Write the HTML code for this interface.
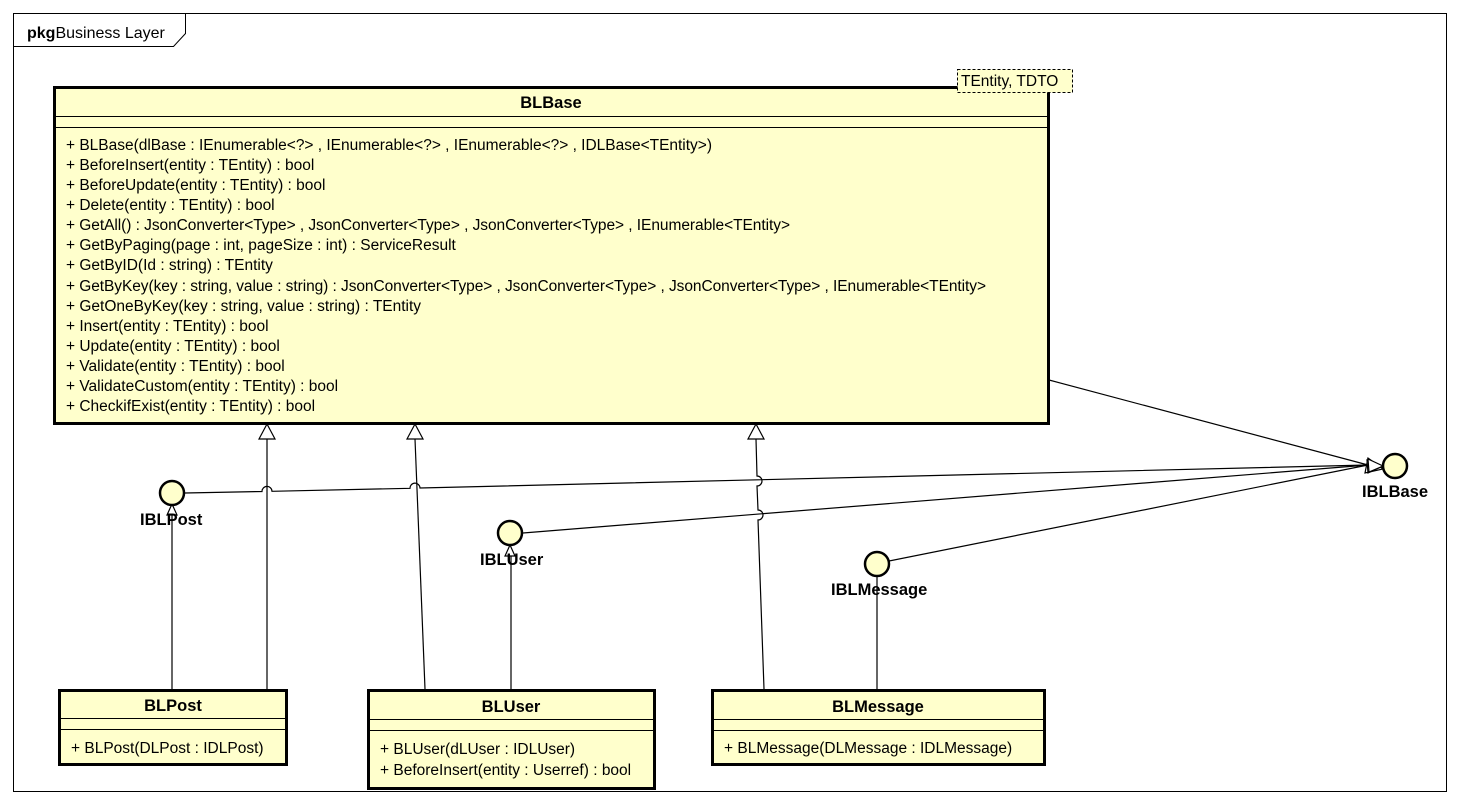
<!DOCTYPE html>
<html><head><meta charset="utf-8"><style>
html,body{margin:0;padding:0;background:#fff;}
svg{display:block;}
text{font-family:"Liberation Sans",Arial,sans-serif;font-size:15.5px;fill:#000;}
.b{font-weight:bold;font-size:16.5px;}
</style></head><body>
<svg width="1458" height="805" viewBox="0 0 1458 805" xmlns="http://www.w3.org/2000/svg">
<rect x="0" y="0" width="1458" height="805" fill="#fff"/>
<rect x="13.5" y="13.5" width="1433" height="778" fill="none" stroke="#000" stroke-width="1"/>
<polyline points="13.5,46.5 173.5,46.5 185.5,33.5 185.5,13.5" fill="none" stroke="#000"/>
<text x="27" y="38" style="font-size:16px"><tspan style="font-weight:bold">pkg</tspan>Business Layer</text>

<g stroke="#000" stroke-width="1.2" fill="none">
<line x1="267" y1="689" x2="267" y2="439"/>
<line x1="425" y1="689" x2="415" y2="439"/>
<path d="M764,689 L758,520 A5,5 0 0 0 758,510 L757,486 A5,5 0 0 0 757,476 L756,439"/>
<line x1="172" y1="689" x2="172" y2="515"/>
<line x1="511" y1="689" x2="511" y2="556"/>
<line x1="877" y1="689" x2="877" y2="577"/>
<path d="M185,493 L262,491.5 A5,5 0 0 1 272,491.3 L410,488.3 A5,5 0 0 1 420,488 L1368,465"/>
<line x1="523" y1="533" x2="1368" y2="465"/>
<line x1="889" y1="561" x2="1368" y2="465"/>
<line x1="1049" y1="380" x2="1368" y2="465"/>
</g>
<g stroke="#000" stroke-width="1.2" fill="#fff">
<polygon points="267,424 259,439 275,439"/>
<polygon points="415,424 407,439 423,439"/>
<polygon points="756,424 748,439 764,439"/>
<polygon points="172,504 167,515 177,515"/>
<polygon points="510,545 505,556 515,556"/>
<polygon points="1383,469 1368,458 1365,473"/>
<polygon points="1383,466 1367,460 1368,473"/>
<polygon points="1383,466 1368,459 1369,472"/>
</g>

<g fill="#ffffcc" stroke="#000" stroke-width="2.5">
<circle cx="172" cy="493" r="12"/>
<circle cx="510" cy="533" r="12"/>
<circle cx="877" cy="564" r="12"/>
<circle cx="1395" cy="466" r="12"/>
</g>
<text class="b" x="140" y="525">IBLPost</text>
<text class="b" x="480" y="565">IBLUser</text>
<text class="b" x="831" y="595">IBLMessage</text>
<text class="b" x="1362" y="497">IBLBase</text>

<rect x="54.5" y="87.5" width="994" height="336" fill="#ffffcc" stroke="#000" stroke-width="3"/>
<line x1="54" y1="116.5" x2="1048" y2="116.5" stroke="#000"/>
<line x1="54" y1="127.5" x2="1048" y2="127.5" stroke="#000"/>
<text class="b" x="551" y="108" text-anchor="middle">BLBase</text>
<rect x="957.5" y="69.5" width="115" height="23" fill="#ffffcc" stroke="#000" stroke-dasharray="3,2"/>
<text x="961" y="86">TEntity,  TDTO</text>
<g>
<text x="66" y="150" textLength="646">+ BLBase(dlBase : IEnumerable&lt;?&gt; , IEnumerable&lt;?&gt; , IEnumerable&lt;?&gt; , IDLBase&lt;TEntity&gt;)</text>
<text x="66" y="170">+ BeforeInsert(entity : TEntity) : bool</text>
<text x="66" y="190">+ BeforeUpdate(entity : TEntity) : bool</text>
<text x="66" y="210">+ Delete(entity : TEntity) : bool</text>
<text x="66" y="230" textLength="724">+ GetAll() : JsonConverter&lt;Type&gt; , JsonConverter&lt;Type&gt; , JsonConverter&lt;Type&gt; , IEnumerable&lt;TEntity&gt;</text>
<text x="66" y="250">+ GetByPaging(page : int, pageSize : int) : ServiceResult</text>
<text x="66" y="270">+ GetByID(Id : string) : TEntity</text>
<text x="66" y="291" textLength="920">+ GetByKey(key : string, value : string) : JsonConverter&lt;Type&gt; , JsonConverter&lt;Type&gt; , JsonConverter&lt;Type&gt; , IEnumerable&lt;TEntity&gt;</text>
<text x="66" y="311">+ GetOneByKey(key : string, value : string) : TEntity</text>
<text x="66" y="331">+ Insert(entity : TEntity) : bool</text>
<text x="66" y="351">+ Update(entity : TEntity) : bool</text>
<text x="66" y="371">+ Validate(entity : TEntity) : bool</text>
<text x="66" y="391">+ ValidateCustom(entity : TEntity) : bool</text>
<text x="66" y="411">+ CheckifExist(entity : TEntity) : bool</text>
</g>

<rect x="59.5" y="690.5" width="227" height="74" fill="#ffffcc" stroke="#000" stroke-width="3"/>
<line x1="59" y1="718.5" x2="286" y2="718.5" stroke="#000"/>
<line x1="59" y1="729.5" x2="286" y2="729.5" stroke="#000"/>
<text class="b" x="173" y="711" text-anchor="middle">BLPost</text>
<text x="71" y="753">+ BLPost(DLPost : IDLPost)</text>

<rect x="368.5" y="690.5" width="286" height="98" fill="#ffffcc" stroke="#000" stroke-width="3"/>
<line x1="368" y1="719.5" x2="654" y2="719.5" stroke="#000"/>
<line x1="368" y1="730.5" x2="654" y2="730.5" stroke="#000"/>
<text class="b" x="511" y="712" text-anchor="middle">BLUser</text>
<text x="380" y="754">+ BLUser(dLUser : IDLUser)</text>
<text x="380" y="775">+ BeforeInsert(entity : Userref) : bool</text>

<rect x="712.5" y="690.5" width="332" height="74" fill="#ffffcc" stroke="#000" stroke-width="3"/>
<line x1="712" y1="719.5" x2="1044" y2="719.5" stroke="#000"/>
<line x1="712" y1="730.5" x2="1044" y2="730.5" stroke="#000"/>
<text class="b" x="878" y="712" text-anchor="middle">BLMessage</text>
<text x="724" y="753">+ BLMessage(DLMessage : IDLMessage)</text>
</svg>
</body></html>
